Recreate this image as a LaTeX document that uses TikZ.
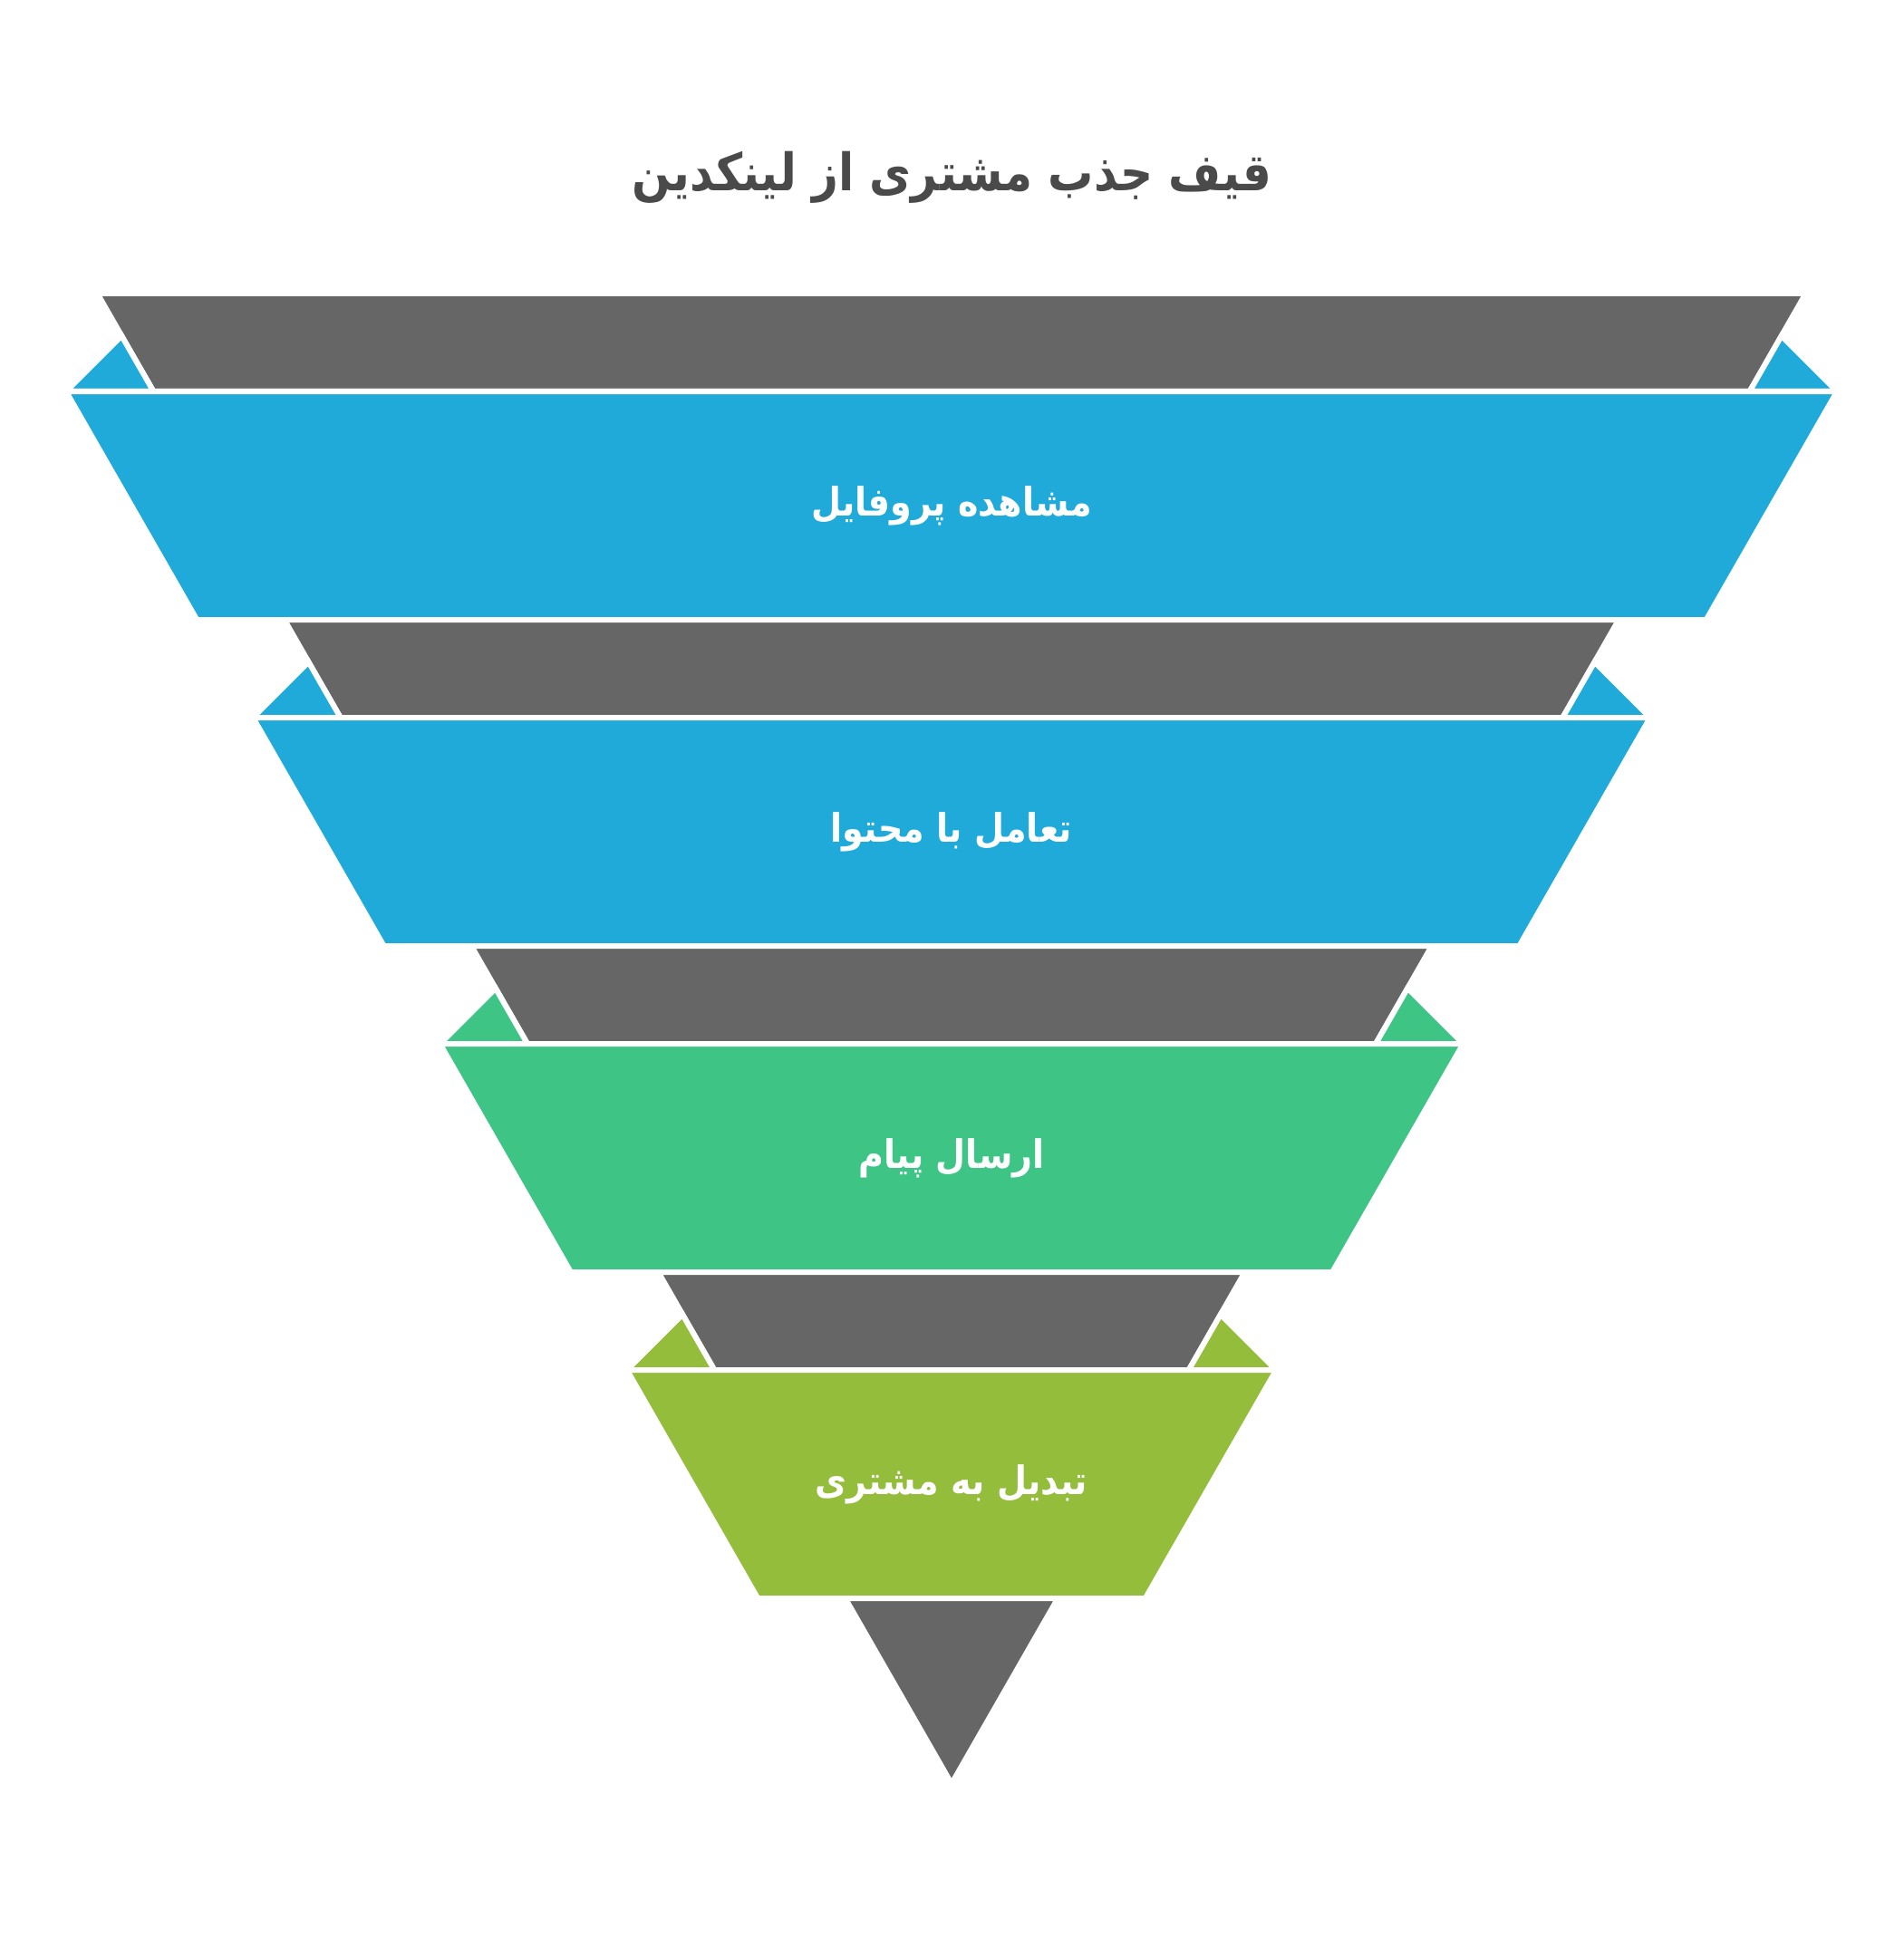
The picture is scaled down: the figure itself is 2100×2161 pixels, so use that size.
\documentclass[tikz,border=0pt]{standalone}
\usepackage{fontspec}
\usepackage{tikz}
\TeXXeTstate=1
\newfontfamily\arabicfont[Script=Arabic,FakeStretch=0.88]{DejaVu Sans}
\definecolor{backgray}{HTML}{666666}
\definecolor{titlegray}{HTML}{4A4A4A}
\definecolor{funnelblue}{HTML}{1FAAD9}
\definecolor{funnelgreen}{HTML}{3EC484}
\definecolor{funnellime}{HTML}{93BD3B}

\begin{document}
\begin{tikzpicture}[x=0.01cm,y=-0.01cm,
  band/.style={draw=white,line width=0.06cm},
  back/.style={band,fill=backgray},
  steptext/.style={text=white,font=\arabicfont\bfseries\fontsize{12.3pt}{15pt}\selectfont}]
\useasboundingbox (0,0) rectangle (2100,2161);

\node [text=titlegray,font=\arabicfont\bfseries\fontsize{16.2pt}{20pt}\selectfont] (title) at (1050,196) {\beginR قیف جذب مشتری از لینکدین\endR};

% first band
\draw[back]  (107.5,324) -- (1992.5,324) -- (1930.6,432) -- (169.4,432) -- cycle;
\draw[band,fill=funnelblue]  (72.9,432) -- (134.2,370.7) -- (169.4,432) -- cycle;
\draw[band,fill=funnelblue]  (2027.1,432) -- (1965.8,370.7) -- (1930.6,432) -- cycle;
\draw[band,fill=funnelblue]  (72.9,432) -- (2027.1,432) -- (1882.7,684) -- (217.3,684) -- cycle;

% second band
\draw[back]  (313.8,684) -- (1786.2,684) -- (1724.3,792) -- (375.7,792) -- cycle;
\draw[band,fill=funnelblue]  (279.2,792) -- (340.5,730.7) -- (375.7,792) -- cycle;
\draw[band,fill=funnelblue]  (1820.8,792) -- (1759.5,730.7) -- (1724.3,792) -- cycle;
\draw[band,fill=funnelblue]  (279.2,792) -- (1820.8,792) -- (1676.4,1044) -- (423.6,1044) -- cycle;

% third band
\draw[back]  (520.1,1044) -- (1579.9,1044) -- (1518.0,1152) -- (582.0,1152) -- cycle;
\draw[band,fill=funnelgreen]  (485.5,1152) -- (546.8,1090.7) -- (582.0,1152) -- cycle;
\draw[band,fill=funnelgreen]  (1614.5,1152) -- (1553.2,1090.7) -- (1518.0,1152) -- cycle;
\draw[band,fill=funnelgreen]  (485.5,1152) -- (1614.5,1152) -- (1470.1,1404) -- (629.9,1404) -- cycle;

% fourth band
\draw[back]  (726.4,1404) -- (1373.6,1404) -- (1311.7,1512) -- (788.3,1512) -- cycle;
\draw[band,fill=funnellime]  (691.8,1512) -- (753.1,1450.7) -- (788.3,1512) -- cycle;
\draw[band,fill=funnellime]  (1408.2,1512) -- (1346.9,1450.7) -- (1311.7,1512) -- cycle;
\draw[band,fill=funnellime]  (691.8,1512) -- (1408.2,1512) -- (1263.8,1764) -- (836.2,1764) -- cycle;

% tip
\draw[back]  (932.7,1764) -- (1167.3,1764) -- (1050,1968.6) -- cycle;

\node [steptext] (profile) at (1050,558) {\beginR مشاهده پروفایل\endR};
\node [steptext] (content) at (1050,918) {\beginR تعامل با محتوا\endR};
\node [steptext] (message) at (1050,1278) {\beginR ارسال پیام\endR};
\node [steptext] (customer) at (1050,1638) {\beginR تبدیل به مشتری\endR};

\end{tikzpicture}
\end{document}
